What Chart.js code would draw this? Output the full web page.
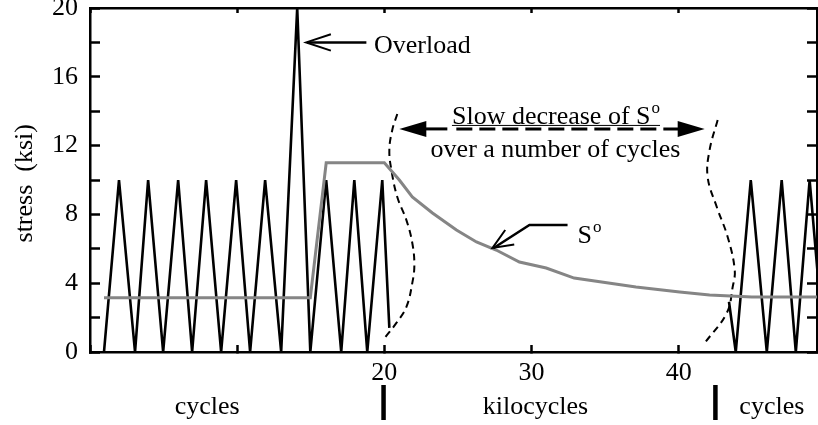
<!DOCTYPE html>
<html>
<head>
<meta charset="utf-8">
<script src="https://cdn.jsdelivr.net/npm/chart.js@4.4.1/dist/chart.umd.min.js"></script>
<style>
  body { margin: 0; background: #fff; }
  canvas { display: block; }
</style>
</head>
<body>
<canvas id="grafico" width="818" height="425"></canvas>
<script>
/* ================= DATA ================= */
// load history, first block (cycles)
const loadX1 = [0.95, 1.97, 3.06, 3.95, 4.97, 5.99, 6.94, 7.89, 8.91, 9.93, 10.88, 11.9, 12.99, 14.08, 14.97, 16.05, 17.07, 17.96, 18.84, 19.86, 20.34];
const loadY1 = [0, 10, 0, 10, 0, 10, 0, 10, 0, 10, 0, 10, 0, 20, 0, 10, 0, 10, 0, 10, 1.4];

// load history, last block (cycles)
const loadX2 = [43.42, 43.88, 44.9, 45.99, 47.0, 47.96, 48.9, 49.9];
const loadY2 = [2.92, 0, 10, 0, 10, 0, 10, 0];

// S° curve
const soX = [0.95, 14.97, 16.05, 20.0, 21.02, 21.9, 23.27, 24.9, 26.26, 27.6, 29.18, 31.0, 32.9, 37.1, 40.07, 42.1, 44.97, 49.5];
const soY = [3.16, 3.16, 11.0, 11.0, 10.0, 9.01, 8.08, 7.09, 6.4, 5.93, 5.23, 4.88, 4.3, 3.78, 3.49, 3.31, 3.2, 3.2];

// dashed break lines
const breakX1 = [20.88, 20.54, 20.34, 20.48, 20.88, 21.5, 21.9, 22.04, 21.9, 21.5, 20.82, 20.07];
const breakY1 = [13.84, 12.91, 11.74, 10.58, 9.01, 7.67, 6.34, 5.06, 4.01, 2.62, 1.69, 0.87];
const breakX2 = [42.65, 42.1, 41.97, 42.59, 43.33, 43.81, 43.67, 43.27, 41.77];
const breakY2 = [13.49, 11.74, 10.17, 8.43, 6.69, 4.77, 3.78, 2.27, 0.52];

// axes
const xLabeled = [20, 30, 40];
const yLabeled = [0, 4, 8, 12, 16, 20];

/* ================= HELPERS ================= */
function pontos(xs, ys) {
  return xs.map((x, i) => ({ x: x, y: ys[i] }));
}

function serie(xs, ys, cor, largura, extra) {
  return Object.assign({
    data: pontos(xs, ys),
    showLine: true,
    borderColor: cor,
    borderWidth: largura,
    pointRadius: 0,
    tension: 0,
    fill: false
  }, extra || {});
}

const FONTE = "'Liberation Serif', 'Times New Roman', serif";

function setaAberta(ctx, tx, ty, fx, fy, comp, abre) {
  const ang = Math.atan2(fy - ty, fx - tx);
  ctx.beginPath();
  ctx.moveTo(tx + comp * Math.cos(ang + abre), ty + comp * Math.sin(ang + abre));
  ctx.lineTo(tx, ty);
  ctx.lineTo(tx + comp * Math.cos(ang - abre), ty + comp * Math.sin(ang - abre));
  ctx.stroke();
}

function setaCheia(ctx, tx, ty, dir, comp, meia) {
  ctx.beginPath();
  ctx.moveTo(tx, ty);
  ctx.lineTo(tx + dir * comp, ty - meia);
  ctx.lineTo(tx + dir * comp, ty + meia);
  ctx.closePath();
  ctx.fill();
}

// text with superscript "o" (S°)
function textoSobrescrito(ctx, base, sup, x, y, alinhar) {
  ctx.font = "26px " + FONTE;
  const w1 = ctx.measureText(base).width;
  ctx.font = "17px " + FONTE;
  const w2 = ctx.measureText(sup).width;
  let x0 = x;
  if (alinhar === "center") x0 = x - (w1 + w2) / 2;
  ctx.textAlign = "left";
  ctx.font = "26px " + FONTE;
  ctx.fillText(base, x0, y);
  ctx.font = "17px " + FONTE;
  ctx.fillText(sup, x0 + w1 + 1, y - 11);
  return { x0: x0, w: w1 + w2 + 1 };
}

/* ================= ANNOTATIONS ================= */
const anotacoes = {
  id: "anotacoes",
  afterDraw(chart) {
    const ctx = chart.ctx;
    const sx = chart.scales.x, sy = chart.scales.y;
    const px = v => sx.getPixelForValue(v);
    const py = v => sy.getPixelForValue(v);
    const fundo = chart.chartArea.bottom;

    ctx.save();
    ctx.fillStyle = "#000";
    ctx.strokeStyle = "#000";
    ctx.textBaseline = "alphabetic";

    // Overload
    ctx.lineWidth = 2.5;
    ctx.beginPath();
    ctx.moveTo(px(14.75), py(18.0));
    ctx.lineTo(px(18.78), py(18.0));
    ctx.stroke();
    ctx.lineWidth = 2;
    setaAberta(ctx, px(14.69), py(18.0), px(18.78), py(18.0), 26, 0.32);
    ctx.font = "26px " + FONTE;
    ctx.textAlign = "left";
    ctx.fillText("Overload", px(19.3), py(17.38));

    // S° pointer
    ctx.lineWidth = 2.5;
    ctx.beginPath();
    ctx.moveTo(px(27.4), py(6.03));
    ctx.lineTo(px(29.86), py(7.38));
    ctx.lineTo(px(32.45), py(7.38));
    ctx.stroke();
    ctx.lineWidth = 2;
    setaAberta(ctx, px(27.35), py(6.05), px(29.86), py(7.38), 22, 0.4);
    textoSobrescrito(ctx, "S", "o", px(33.13), py(6.34), "left");

    // Slow decrease double arrow
    const ya = py(12.97);
    const xa = px(21.02), xb = px(41.77);
    setaCheia(ctx, xa, ya, 1, 27, 8);
    setaCheia(ctx, xb, ya, -1, 27, 8);
    ctx.lineWidth = 3;
    ctx.beginPath();
    ctx.moveTo(xa + 26, ya);
    ctx.lineTo(xa + 48, ya);
    ctx.stroke();
    ctx.setLineDash([16, 7]);
    ctx.beginPath();
    ctx.moveTo(xa + 57, ya);
    ctx.lineTo(xb - 26, ya);
    ctx.stroke();
    ctx.setLineDash([]);

    const t = textoSobrescrito(ctx, "Slow decrease of S", "o", px(31.63), py(13.26), "center");
    ctx.lineWidth = 1;
    ctx.beginPath();
    ctx.moveTo(t.x0, py(13.26) + 1.5);
    ctx.lineTo(t.x0 + t.w, py(13.26) + 1.5);
    ctx.stroke();
    ctx.font = "26px " + FONTE;
    ctx.textAlign = "center";
    ctx.fillText("over a number of cycles", px(31.63), py(11.34));

    // axis units below the axis
    ctx.fillText("cycles", px(7.96), fundo + 62);
    ctx.fillText("kilocycles", px(30.27), fundo + 62);
    ctx.fillText("cycles", px(46.33), fundo + 62);
    ctx.fillRect(px(19.93) - 2, fundo + 33, 4.5, 35);
    ctx.fillRect(px(42.48) - 2, fundo + 33, 4.5, 35);

    ctx.restore();
  }
};

/* ================= CHART ================= */
Chart.defaults.font.family = FONTE;
Chart.defaults.font.size = 26;
Chart.defaults.color = "#000";

function eixoBase(extra) {
  return Object.assign({
    type: "linear",
    border: { display: true, color: "#000", width: 2.5 },
    grid: { drawOnChartArea: false, color: "#000", tickColor: "#000", tickWidth: 2.5 }
  }, extra);
}

new Chart(document.getElementById("grafico"), {
  type: "scatter",
  data: {
    datasets: [
      serie(soX, soY, "#858585", 3),
      serie(loadX1, loadY1, "#000", 2.6),
      serie(loadX2, loadY2, "#000", 2.6),
      serie(breakX1, breakY1, "#000", 2, { borderDash: [7, 5], tension: 0.4 }),
      serie(breakX2, breakY2, "#000", 2, { borderDash: [7, 5], tension: 0.4 })
    ]
  },
  options: {
    responsive: false,
    animation: false,
    layout: { padding: 0 },
    plugins: { legend: { display: false }, tooltip: { enabled: false } },
    scales: {
      x: eixoBase({
        position: "bottom",
        min: 0,
        max: 49.4,
        grid: { drawOnChartArea: false, tickColor: "#000", tickWidth: 2.5, tickLength: -7 },
        ticks: {
          stepSize: 10,
          includeBounds: false,
          padding: 13,
          maxRotation: 0,
          autoSkip: false,
          callback: v => (xLabeled.includes(v) ? String(v) : "")
        },
        afterFit: s => { s.height = 73; s.paddingLeft = 0; s.paddingRight = 0; }
      }),
      x2: eixoBase({
        position: "top",
        min: 0,
        max: 49.4,
        grid: { drawOnChartArea: false, tickColor: "#000", tickWidth: 2.5, tickLength: -5 },
        ticks: { stepSize: 10, includeBounds: false, display: false },
        afterFit: s => { s.height = 8; s.paddingLeft = 0; s.paddingRight = 0; }
      }),
      y: eixoBase({
        position: "left",
        min: 0,
        max: 20,
        grid: { drawOnChartArea: false, tickColor: "#000", tickWidth: 2.5, tickLength: -10 },
        ticks: {
          stepSize: 2,
          padding: 22,
          autoSkip: false,
          callback: v => (yLabeled.includes(v) ? String(v) : "")
        },
        title: { display: true, text: "stress  (ksi) ", font: { size: 26 }, padding: { top: 10, bottom: 0 } },
        afterFit: s => { s.width = 90; s.paddingTop = 0; s.paddingBottom = 0; }
      }),
      y2: eixoBase({
        position: "right",
        min: 0,
        max: 20,
        grid: { drawOnChartArea: false, tickColor: "#000", tickWidth: 2.5, tickLength: -10 },
        ticks: { stepSize: 2, display: false },
        afterFit: s => { s.width = 1; s.paddingTop = 0; s.paddingBottom = 0; }
      })
    }
  },
  plugins: [anotacoes]
});
</script>
</body>
</html>
